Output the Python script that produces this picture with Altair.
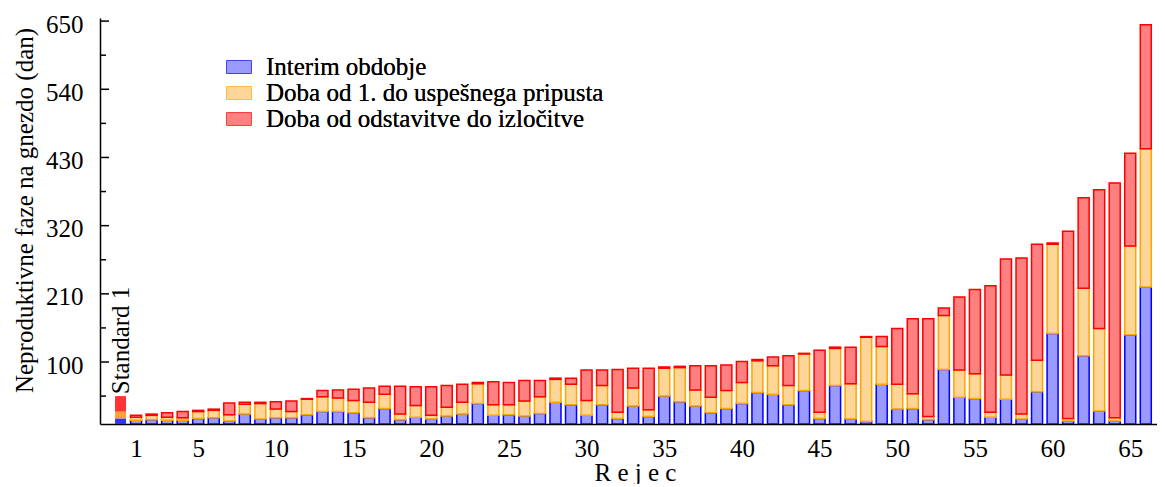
import altair as alt
import pandas as pd

FONT = "Liberation Serif"

positions = list(range(1, 67))
interim = [6, 7, 6, 6, 9, 10, 5, 16, 8, 10,
           10, 15, 20, 20, 18, 10, 25, 7, 11, 8,
           13, 16, 33, 14, 15, 13, 17, 35, 31, 14,
           31, 9, 29, 12, 45, 36, 29, 18, 25, 33,
           51, 48, 31, 54, 9, 62, 8, 4, 64, 24,
           25, 7, 88, 43, 41, 11, 40, 8, 52, 146,
           5, 110, 21, 5, 144, 221]
doba_pripust = [5, 7, 5, 4, 11, 12, 10, 16, 25, 14,
                10, 25, 24, 22, 20, 25, 23, 9, 19, 6,
                14, 19, 32, 17, 16, 24, 27, 37, 33, 24,
                31, 10, 29, 11, 45, 55, 26, 25, 29, 34,
                51, 46, 31, 59, 10, 60, 57, 136, 61, 40,
                24, 5, 87, 44, 40, 8, 39, 8, 51, 144,
                4, 109, 133, 5, 143, 223]
doba_izloc = [3, 2, 7, 10, 2, 2, 19, 3, 2, 12,
              17, 1, 10, 13, 18, 23, 13, 45, 30, 46,
              35, 29, 2, 37, 36, 33, 26, 2, 10, 49,
              25, 69, 32, 67, 2, 2, 39, 51, 41, 34,
              2, 14, 48, 1, 100, 2, 59, 1, 16, 90,
              121, 158, 12, 118, 136, 204, 187, 252, 187, 2,
              302, 146, 224, 379, 150, 200]

series_names = ["Interim obdobje",
                "Doba od 1. do uspešnega pripusta",
                "Doba od odstavitve do izločitve"]
fill_colors = ["#9b9bff", "#ffd699", "#ff8080"]
stroke_colors = ["#0000ff", "#ffa500", "#ff0000"]

standard_pos = [0]
standard_values = [9, 11, 25]
standard_colors = ["#3333ff", "#ffa033", "#ff3333"]
standard_label = ["Standard 1"]
standard_label_y = [48]

x_ticks = [1, 5, 10, 15, 20, 25, 30, 35, 40, 45, 50, 55, 60, 65]
y_major = [100, 210, 320, 430, 540, 650]
y_minor = [45, 155, 265, 375, 485, 595]

rows = []
for k, (name, vals) in enumerate(zip(series_names, [interim, doba_pripust, doba_izloc])):
    for p, v in zip(positions, vals):
        rows.append({"pos": p, "value": v, "series": name, "k": k})
df = pd.DataFrame(rows)

std_df = pd.DataFrame({
    "pos": standard_pos * 3,
    "value": standard_values,
    "color": standard_colors,
    "k": [0, 1, 2],
})
label_df = pd.DataFrame({"pos": standard_pos, "y": standard_label_y, "label": standard_label})
major_df = pd.DataFrame({"v": y_major})
minor_df = pd.DataFrame({"v": y_minor})

xscale = alt.Scale(domain=[-1, 66.4], nice=False, zero=False)
yscale = alt.Scale(domain=[0, 655], nice=False)

legend = alt.Legend(
    orient="none", legendX=126, legendY=36, title=None,
    symbolType="M-1,-0.5H1V0.5H-1Z", symbolSize=576, symbolStrokeWidth=1.5,
    labelFont=FONT, labelFontSize=25, labelColor="black", labelOffset=14,
    rowPadding=-1, padding=0, labelLimit=600,
)

x_axis = alt.Axis(
    values=x_ticks, title="R e j e c", grid=False,
    domainColor="black", domainWidth=1.5, ticks=False, tickSize=0,
    labelFont=FONT, labelFontSize=25, labelColor="black",
    labelPadding=12, labelBaseline="top", labelFlush=False, labelOverlap=False,
    titleFont=FONT, titleFontSize=25, titleFontWeight="normal", titleColor="black",
    titleX=535, titleY=56, titleBaseline="alphabetic", titleAlign="center",
)
y_axis = alt.Axis(
    values=y_major, title="Neproduktivne faze na gnezdo (dan)", grid=False,
    domainColor="black", domainWidth=1.5, ticks=False, tickSize=0,
    labelFont=FONT, labelFontSize=25, labelColor="black",
    labelPadding=17, labelBaseline="middle", labelOffset=3, labelOverlap=False,
    titleFont=FONT, titleFontSize=25, titleFontWeight="normal", titleColor="black",
    titleAngle=270, titleX=-68, titleY=192, titleBaseline="alphabetic", titleAlign="center",
)

bars = alt.Chart(df).mark_bar(width=11, strokeWidth=1.5, clip=True).encode(
    x=alt.X("pos:Q", scale=xscale, axis=x_axis),
    y=alt.Y("value:Q", stack="zero", scale=yscale, axis=y_axis),
    fill=alt.Fill("series:N", scale=alt.Scale(domain=series_names, range=fill_colors), legend=legend),
    stroke=alt.Stroke("series:N", scale=alt.Scale(domain=series_names, range=stroke_colors), legend=legend),
    order=alt.Order("k:Q", sort="ascending"),
)

std = alt.Chart(std_df).mark_bar(width=11, opacity=1).encode(
    x=alt.X("pos:Q", scale=xscale),
    y=alt.Y("value:Q", stack="zero", scale=yscale),
    fill=alt.Fill("color:N", scale=None),
    order=alt.Order("k:Q", sort="ascending"),
)

txt = alt.Chart(label_df).mark_text(
    angle=270, align="left", baseline="middle", font=FONT, fontSize=25, color="black"
).encode(
    x=alt.X("pos:Q", scale=xscale),
    y=alt.Y("y:Q", scale=yscale),
    text="label:N",
)

major = alt.Chart(major_df).mark_rule(color="black", strokeWidth=1.5).encode(
    y=alt.Y("v:Q", scale=yscale), x=alt.value(0), x2=alt.value(9)
)
minor = alt.Chart(minor_df).mark_rule(color="black", strokeWidth=1.5).encode(
    y=alt.Y("v:Q", scale=yscale), x=alt.value(0), x2=alt.value(6)
)

chart = alt.layer(bars, std, txt, major, minor).properties(
    width=1057, height=406,
    autosize=alt.AutoSizeParams(type="none"),
    padding={"left": 92, "top": 10, "right": 0, "bottom": 60},
).resolve_scale(fill="independent").configure_view(stroke=None)

chart.save("out.html", embed_options={"renderer": "svg", "actions": False})
